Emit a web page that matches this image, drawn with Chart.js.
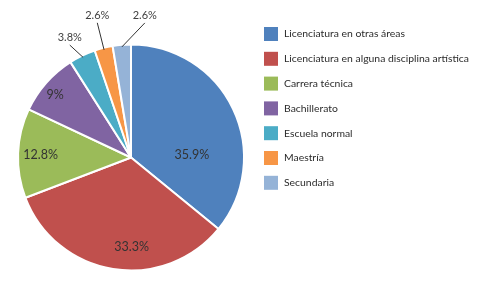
<!DOCTYPE html>
<html>
<head>
<meta charset="utf-8">
<script src="https://cdn.jsdelivr.net/npm/chart.js@4/dist/chart.umd.min.js"></script>
<style>
  html, body { margin: 0; padding: 0; background: #fff; }
  #wrap { width: 492px; height: 284px; }
</style>
</head>
<body>
<div id="wrap"><canvas id="pie"></canvas></div>
<script>
const categories = [
  "Licenciatura en otras áreas",
  "Licenciatura en alguna disciplina artística",
  "Carrera técnica",
  "Bachillerato",
  "Escuela normal",
  "Maestría",
  "Secundaria"
];
const percents = [35.9, 33.3, 12.8, 9, 3.8, 2.6, 2.6];
const colors = ["#4f81bd", "#c0504d", "#9bbb59", "#8064a2", "#4bacc6", "#f79646", "#95b3d7"];

// where each label sits: fraction along the slice's angle, radius factor, outside?
const labelPlace = [
  { frac: 0.675, r: 0.54, out: false },
  { frac: 0.42, r: 0.79, out: false },
  { frac: 0.49, r: 0.80, out: false },
  { frac: 0.44, r: 0.87, out: false },
  { frac: 0.37, r: 1.18, out: true },
  { frac: 0.56, r: 1.28, out: true },
  { frac: 1.60, r: 1.25, out: true }
];

const FONT = "Lato, 'Open Sans', sans-serif";

const labelsPlugin = {
  id: "sliceLabels",
  afterDatasetsDraw(chart) {
    const ctx = chart.ctx;
    const meta = chart.getDatasetMeta(0);
    ctx.save();
    meta.data.forEach((arc, i) => {
      const p = labelPlace[i];
      const a = arc.startAngle + (arc.endAngle - arc.startAngle) * p.frac;
      const R = arc.outerRadius;
      const tx = arc.x + Math.cos(a) * R * p.r;
      const ty = arc.y + Math.sin(a) * R * p.r;
      const txt = percents[i] + "%";
      if (p.out) {
        const mid = (arc.startAngle + arc.endAngle) / 2;
        const sx = arc.x + Math.cos(mid) * (R - 2);
        const sy = arc.y + Math.sin(mid) * (R - 2);
        ctx.strokeStyle = "#333";
        ctx.lineWidth = 1;
        ctx.beginPath();
        ctx.moveTo(sx, sy);
        ctx.lineTo(tx, ty + 6);
        ctx.stroke();
        ctx.font = "11px " + FONT;
        ctx.fillStyle = "#404040";
        ctx.textAlign = "center";
        ctx.textBaseline = "bottom";
        ctx.fillText(txt, tx, ty + 4);
      } else {
        ctx.font = "12.5px " + FONT;
        ctx.fillStyle = "#333";
        ctx.textAlign = "center";
        ctx.textBaseline = "middle";
        ctx.fillText(txt, tx, ty);
      }
    });
    ctx.restore();
  }
};

const legendPlugin = {
  id: "sideLegend",
  afterDraw(chart) {
    const ctx = chart.ctx;
    ctx.save();
    ctx.font = "10.4px " + FONT;
    ctx.textBaseline = "middle";
    ctx.textAlign = "left";
    categories.forEach((name, i) => {
      const y = 34 + i * 24.8;
      ctx.fillStyle = colors[i];
      ctx.fillRect(264, y - 7, 14, 14);
      ctx.fillStyle = "#2b2b2b";
      ctx.fillText(name, 284, y);
    });
    ctx.restore();
  }
};

new Chart(document.getElementById("pie"), {
  type: "pie",
  data: {
    labels: categories,
    datasets: [{
      data: percents,
      backgroundColor: colors,
      borderColor: "#fff",
      borderWidth: 2
    }]
  },
  options: {
    responsive: true,
    maintainAspectRatio: false,
    animation: false,
    layout: { padding: { left: 17, right: 247, top: 43, bottom: 12 } },
    plugins: {
      legend: { display: false },
      tooltip: { enabled: false }
    }
  },
  plugins: [labelsPlugin, legendPlugin]
});
</script>
</body>
</html>
